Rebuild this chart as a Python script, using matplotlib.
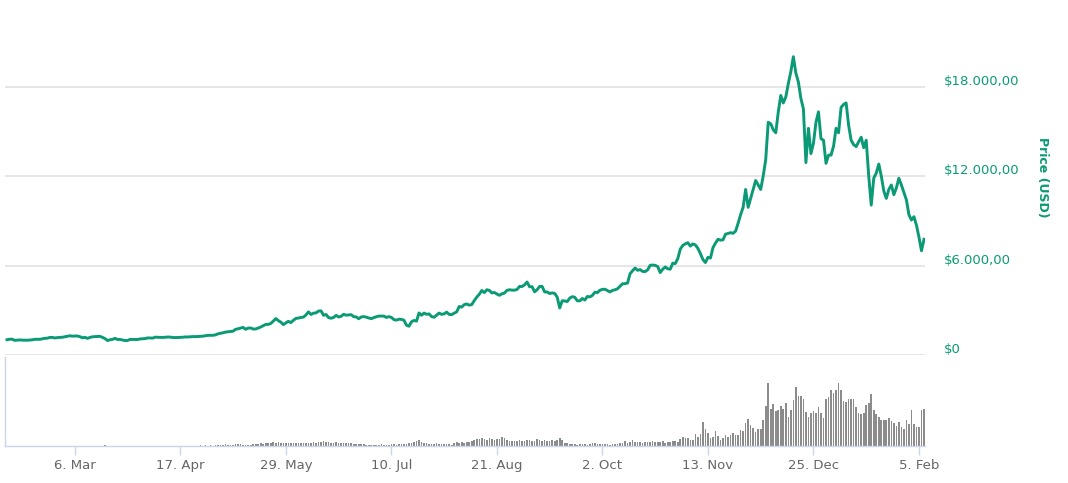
"""Bitcoin price and volume, Feb 2017 - Feb 2018."""

import matplotlib

matplotlib.use("Agg")
from matplotlib import pyplot as plt
from matplotlib import dates as mdates
from matplotlib.ticker import FixedLocator, FuncFormatter
from matplotlib.transforms import ScaledTranslation
import numpy as np
import pandas as pd

# Daily price (USD), month by month.
price_feb17 = [1024, 1055, 1063, 984, 998, 1009, 998, 996, 990, 1005, 1016, 1047,
               1055, 1051, 1080, 1120, 1123, 1177, 1178, 1144, 1163, 1180, 1189]
price_mar17 = [1222, 1251, 1287, 1265, 1273, 1276, 1230, 1150, 1188, 1116, 1175,
               1221, 1231, 1240, 1250, 1180, 1100, 970, 1021, 1047, 1118, 1040,
               1043, 1003, 966, 973, 1045, 1045, 1040, 1038, 1079]
price_apr17 = [1086, 1099, 1147, 1143, 1133, 1196, 1190, 1181, 1175, 1187, 1205,
               1200, 1169, 1167, 1172, 1180, 1193, 1212, 1207, 1222, 1235, 1230,
               1238, 1252, 1265, 1289, 1317, 1317, 1322, 1348]
price_may17 = [1421, 1452, 1490, 1537, 1555, 1578, 1597, 1724, 1756, 1809, 1846,
               1724, 1804, 1809, 1740, 1746, 1805, 1878, 1967, 2049, 2051, 2116,
               2272, 2444, 2305, 2202, 2038, 2155, 2256, 2175, 2330]
price_jun17 = [2452, 2478, 2516, 2540, 2687, 2890, 2717, 2805, 2823, 2947, 2959,
               2660, 2717, 2506, 2464, 2518, 2655, 2549, 2594, 2727, 2669, 2689,
               2705, 2566, 2556, 2430, 2550, 2573, 2539, 2481]
price_jul17 = [2435, 2506, 2565, 2609, 2611, 2608, 2518, 2572, 2518, 2372, 2338,
               2399, 2388, 2332, 1998, 1929, 2228, 2318, 2273, 2817, 2667, 2810,
               2730, 2754, 2577, 2529, 2671, 2809, 2726, 2757, 2875]
price_aug17 = [2718, 2710, 2804, 2895, 3252, 3213, 3378, 3419, 3342, 3381, 3650,
               3884, 4073, 4326, 4182, 4376, 4331, 4160, 4194, 4088, 4001, 4100,
               4152, 4335, 4372, 4352, 4345, 4390, 4597, 4589, 4703]
price_sep17 = [4892, 4578, 4582, 4236, 4376, 4597, 4599, 4229, 4226, 4123, 4162,
               4130, 3882, 3154, 3637, 3625, 3582, 3815, 3910, 3870, 3632, 3631,
               3790, 3682, 3926, 3892, 3995, 4208, 4185, 4338]
price_oct17 = [4403, 4409, 4318, 4229, 4329, 4371, 4439, 4611, 4772, 4782, 4826,
               5446, 5647, 5831, 5679, 5726, 5606, 5591, 5709, 6011, 6031, 6009,
               5931, 5526, 5750, 5904, 5780, 5754, 6154, 6131, 6468]
price_nov17 = [7100, 7350, 7450, 7530, 7300, 7450, 7380, 7150, 6800, 6400, 6200,
               6550, 6500, 7200, 7500, 7760, 7700, 7720, 8100, 8150, 8200, 8160,
               8300, 8830, 9400, 9900, 11100, 9900, 10500, 11100]
price_dec17 = [11700, 11400, 11100, 12000, 13100, 15600, 15500, 15100, 14900,
               16300, 17400, 16900, 17300, 18200, 19000, 20000, 18900, 18300,
               17200, 16500, 12900, 15200, 13500, 14200, 15600, 16300, 14500,
               14400, 12850, 13400, 13400]
price_jan18 = [14000, 15200, 14900, 16600, 16800, 16900, 15400, 14400, 14100,
               13970, 14300, 14600, 13900, 14400, 12000, 10050, 11850, 12200,
               12800, 12000, 11000, 10500, 11100, 11400, 10750, 11200, 11850,
               11400, 10900, 10400, 9400]
price_feb18 = [9050, 9270, 8700, 7900, 6990, 7760]

# Daily volume (billion USD), same days.
vol_feb17 = [0.03, 0.03, 0.04, 0.03, 0.02, 0.02, 0.03, 0.03, 0.02, 0.03, 0.03, 0.04,
             0.03, 0.03, 0.03, 0.04, 0.04, 0.05, 0.04, 0.04, 0.03, 0.04, 0.04]
vol_mar17 = [0.04, 0.05, 0.05, 0.05, 0.04, 0.04, 0.05, 0.06, 0.05, 0.06, 0.05, 0.04,
             0.04, 0.04, 0.04, 0.05, 0.35, 0.06, 0.05, 0.05, 0.06, 0.05, 0.05, 0.04,
             0.05, 0.04, 0.05, 0.04, 0.04, 0.04, 0.05]
vol_apr17 = [0.05, 0.04, 0.05, 0.06, 0.05, 0.05, 0.05, 0.04, 0.04, 0.04, 0.05, 0.05,
             0.04, 0.04, 0.04, 0.04, 0.05, 0.05, 0.06, 0.05, 0.06, 0.06, 0.08, 0.2,
             0.1, 0.25, 0.1, 0.3, 0.12, 0.33]
vol_may17 = [0.4, 0.45, 0.5, 0.55, 0.5, 0.45, 0.42, 0.6, 0.65, 0.55, 0.5, 0.45,
             0.48, 0.52, 0.6, 0.7, 0.8, 0.9, 0.85, 1.0, 0.95, 1.1, 1.3, 1.2, 1.5,
             1.1, 0.9, 1.0, 1.2, 1.0, 0.95]
vol_jun17 = [1.0, 1.1, 0.9, 1.0, 1.05, 1.2, 1.15, 1.3, 1.2, 1.4, 1.5, 1.8, 1.3,
             1.4, 1.2, 1.1, 1.3, 1.0, 0.9, 1.0, 1.1, 0.95, 0.9, 0.8, 0.75, 0.8,
             0.6, 0.55, 0.5, 0.45]
vol_jul17 = [0.5, 0.45, 0.4, 0.5, 0.55, 0.45, 0.4, 0.5, 0.6, 0.55, 0.5, 0.6, 0.65,
             0.7, 0.8, 0.9, 1.1, 1.4, 1.6, 2.1, 1.5, 1.2, 0.9, 0.7, 0.6, 0.8, 0.9,
             0.7, 0.6, 0.75, 0.8]
vol_aug17 = [0.6, 0.5, 1.1, 1.3, 1.2, 1.4, 1.1, 1.3, 1.4, 1.8, 2.2, 2.5, 2.4, 2.8,
             2.6, 2.3, 2.7, 2.5, 2.2, 2.6, 2.4, 3.1, 2.7, 2.0, 1.9, 1.7, 1.6, 1.8,
             2.0, 1.7, 1.9]
vol_sep17 = [2.2, 2.0, 1.8, 1.9, 2.5, 2.1, 1.8, 2.0, 1.6, 1.9, 2.2, 1.8, 2.1, 3.0,
             2.2, 1.0, 0.9, 0.8, 0.7, 0.6, 0.5, 0.8, 0.7, 0.6, 0.5, 0.8, 1.0, 0.9,
             0.7, 0.6]
vol_oct17 = [0.7, 0.6, 0.8, 0.5, 0.6, 0.7, 0.6, 0.9, 1.2, 1.6, 1.1, 1.3, 2.0, 1.5,
             1.4, 1.3, 1.2, 1.5, 1.4, 1.3, 1.8, 1.4, 1.5, 1.3, 1.7, 1.2, 1.4, 1.3,
             1.6, 1.9, 1.5]
vol_nov17 = [2.4, 3.3, 2.9, 3.0, 2.1, 2.1, 4.3, 3.1, 4.3, 8.4, 6.0, 4.5, 3.0, 3.3,
             5.3, 3.5, 2.1, 3.0, 3.9, 3.1, 3.9, 4.5, 3.9, 3.9, 5.7, 5.3, 8.3, 9.7,
             7.5, 6.3]
vol_dec17 = [4.9, 6.0, 6.0, 9.2, 14.2, 22.5, 13.1, 14.9, 12.5, 12.8, 14.2, 13.1,
             15.4, 10.2, 12.8, 16.3, 20.8, 17.7, 17.7, 16.6, 12.2, 10.2, 11.6, 12.3,
             11.6, 13.7, 11.8, 9.8, 16.6, 17.3, 19.9]
vol_jan18 = [18.7, 19.9, 22.5, 19.9, 16.1, 15.5, 16.6, 16.6, 16.6, 13.7, 11.6,
             11.2, 11.8, 14.6, 15.1, 18.5, 12.8, 11.4, 10.4, 9.2, 9.2, 9.2, 9.8,
             9.0, 8.3, 7.1, 8.4, 6.6, 6.0, 9.2, 7.8]
vol_feb18 = [12.8, 7.8, 6.6, 6.6, 12.8, 13.3]

start_date = "2017-02-07"
tick_dates = ["2017-03-06", "2017-04-17", "2017-05-29", "2017-07-10", "2017-08-21",
              "2017-10-02", "2017-11-13", "2017-12-25", "2018-02-05"]
price_ticks = [0, 6000, 12000, 18000]

price = np.array(price_feb17 + price_mar17 + price_apr17 + price_may17
                 + price_jun17 + price_jul17 + price_aug17 + price_sep17
                 + price_oct17 + price_nov17 + price_dec17 + price_jan18
                 + price_feb18)
volume = np.array(vol_feb17 + vol_mar17 + vol_apr17 + vol_may17 + vol_jun17
                  + vol_jul17 + vol_aug17 + vol_sep17 + vol_oct17 + vol_nov17
                  + vol_dec17 + vol_jan18 + vol_feb18)
dates = pd.date_range(start_date, periods=len(price))
xd = mdates.date2num(dates)

GREEN = "#0a9a76"
W, H = 1068, 483
fig = plt.figure(figsize=(W / 100, H / 100), dpi=100)

ax = fig.add_axes([5 / W, (H - 355) / H, 920 / W, 355 / H])
axv = fig.add_axes([5 / W, (H - 446) / H, 920 / W, 89 / H])

xlim = (xd[0] - 0.8, xd[0] + 365.4)

# Price pane
ax.plot(xd, price, color=GREEN, lw=2.1, solid_joinstyle="round")
ax.set_xlim(*xlim)
ax.set_ylim(0, 23800)
ax.set_yticks(price_ticks)
ax.yaxis.tick_right()
ax.yaxis.set_major_formatter(FuncFormatter(
    lambda v, p: "$0" if v == 0 else
    "${:,.2f}".format(v).replace(",", "X").replace(".", ",").replace("X", ".")))
ax.tick_params(axis="y", length=0, pad=13.5, labelsize=9.5, labelcolor=GREEN)
ax.tick_params(axis="x", bottom=False, labelbottom=False)
ax.grid(axis="y", color="#e6e6e6", lw=1.4)
ax.set_axisbelow(True)
for s in ax.spines.values():
    s.set_visible(False)
shift = ScaledTranslation(0, 0.07, fig.dpi_scale_trans)
for lab in ax.get_yticklabels():
    lab.set_transform(lab.get_transform() + shift)

fig.text(1042.7 / W, 1 - 177 / H, "Price (USD)", rotation=270, ha="center",
         va="center", color=GREEN, fontsize=9, fontweight="bold")

# Volume pane
axv.bar(xd, volume, width=0.65, color="#8c8c8c", linewidth=0)
axv.set_xlim(*xlim)
axv.set_ylim(0, 31.6)
axv.set_yticks([])
for side in ("top", "right"):
    axv.spines[side].set_visible(False)
for side in ("left", "bottom"):
    axv.spines[side].set_color("#ccd6eb")
    axv.spines[side].set_linewidth(1)
axv.xaxis.set_major_locator(FixedLocator(mdates.date2num(pd.to_datetime(tick_dates))))
axv.xaxis.set_major_formatter(FuncFormatter(
    lambda v, p: "{}. {}".format(mdates.num2date(v).day,
                                  mdates.num2date(v).strftime("%b"))))
axv.tick_params(axis="x", length=6.5, width=1, color="#ccd6eb", pad=3,
                labelsize=9.5, labelcolor="#666666")

fig.savefig("out.png", dpi=100)
